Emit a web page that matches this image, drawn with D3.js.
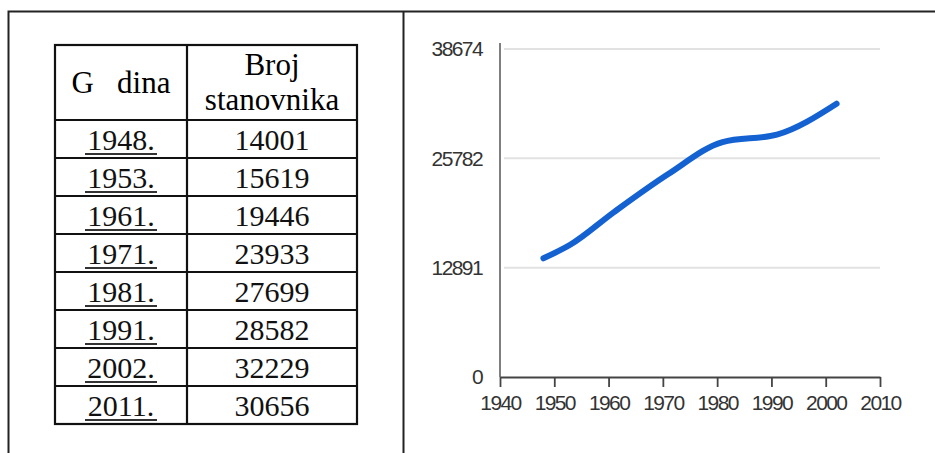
<!DOCTYPE html>
<html>
<head>
<meta charset="utf-8">
<script src="https://cdn.jsdelivr.net/npm/d3@7"></script>
<style>
  body { margin: 0; background: #fff; }
  svg { display: block; }
</style>
</head>
<body>
<script>
// table data
const years = ['1948.', '1953.', '1961.', '1971.', '1981.', '1991.', '2002.', '2011.'];
const population = [14001, 15619, 19446, 23933, 27699, 28582, 32229, 30656];

// chart data (the plotted line stops at 2002)
const lineYears = [1948, 1953, 1961, 1971, 1981, 1991, 2002];
const lineValues = [14001, 15619, 19446, 23933, 27699, 28582, 32229];
const yTickValues = [0, 12891, 25782, 38674];
const xTickValues = [1940, 1950, 1960, 1970, 1980, 1990, 2000, 2010];

const width = 935, height = 453;
const svg = d3.select('body').append('svg')
	.attr('width', width)
	.attr('height', height);

// outer frame
svg.append('path')
	.attr('d', 'M8.5,' + height + 'V11.5H' + width + 'M403.5,11.5V' + height)
	.attr('fill', 'none')
	.attr('stroke', '#222')
	.attr('stroke-width', 2);

// ---------- table ----------
const tLeft = 55, tMid = 187, tRight = 357, tTop = 45, headBottom = 120, rowH = 38;
const serif = '"Liberation Serif", "Times New Roman", serif';
const table = svg.append('g');

const rowYs = d3.range(years.length + 1).map((i) => headBottom + i * rowH);
const tBottom = rowYs[rowYs.length - 1];

table.append('rect')
	.attr('x', tLeft).attr('y', tTop)
	.attr('width', tRight - tLeft).attr('height', tBottom - tTop)
	.attr('fill', 'none').attr('stroke', '#111').attr('stroke-width', 2.2);

table.append('line')
	.attr('x1', tMid).attr('x2', tMid).attr('y1', tTop).attr('y2', tBottom)
	.attr('stroke', '#111').attr('stroke-width', 2.2);

table.selectAll('line.row')
	.data(rowYs.slice(0, -1))
	.enter()
	.append('line')
	.attr('class', 'row')
	.attr('x1', tLeft).attr('x2', tRight)
	.attr('y1', (d) => d).attr('y2', (d) => d)
	.attr('stroke', '#111').attr('stroke-width', 2.2);

const c1 = (tLeft + tMid) / 2, c2 = (tMid + tRight) / 2;

table.append('text')
	.attr('x', c1).attr('y', 93)
	.attr('text-anchor', 'middle')
	.attr('font-family', serif).attr('font-size', 31)
	.style('white-space', 'pre')
	.text('G   dina');

table.append('text')
	.attr('x', c2).attr('y', 75)
	.attr('text-anchor', 'middle')
	.attr('font-family', serif).attr('font-size', 31)
	.text('Broj');

table.append('text')
	.attr('x', c2).attr('y', 110)
	.attr('text-anchor', 'middle')
	.attr('font-family', serif).attr('font-size', 31)
	.text('stanovnika');

const rows = table.selectAll('g.r')
	.data(years.map((y, i) => ({ year: y, pop: population[i], top: rowYs[i] })))
	.enter()
	.append('g')
	.attr('class', 'r');

rows.append('text')
	.attr('x', c1).attr('y', (d) => d.top + 30)
	.attr('text-anchor', 'middle')
	.attr('font-family', serif).attr('font-size', 30)
	.attr('fill', '#111')
	.text((d) => d.year);

rows.append('line')
	.attr('x1', 85).attr('x2', 157)
	.attr('y1', (d) => d.top + 34).attr('y2', (d) => d.top + 34)
	.attr('stroke', '#333').attr('stroke-width', 2.2);

rows.append('text')
	.attr('x', c2).attr('y', (d) => d.top + 30)
	.attr('text-anchor', 'middle')
	.attr('font-family', serif).attr('font-size', 30)
	.attr('fill', '#111')
	.text((d) => d.pop);

// ---------- chart ----------
const x0 = 500, x1 = 880, yBase = 377, yTop = 49;
const xScale = d3.scaleLinear().domain([1940, 2010]).range([x0, x1]);
const yScale = d3.scaleLinear().domain([0, 38674]).range([yBase, yTop]);
const sans = '"Liberation Sans", Arial, sans-serif';
const chart = svg.append('g');

// gridlines
chart.append('g')
	.selectAll('line')
	.data(yTickValues.slice(1))
	.enter()
	.append('line')
	.attr('x1', x0 + 4).attr('x2', x1)
	.attr('y1', (d) => yScale(d)).attr('y2', (d) => yScale(d))
	.attr('stroke', '#e2e2e2').attr('stroke-width', 2);

const yAxis = d3.axisLeft(yScale).tickValues(yTickValues).tickSize(0).tickPadding(18).tickFormat(d3.format('d'));
const yAxisSel = chart.append('g')
	.attr('transform', 'translate(' + x0 + ',0)')
	.call(yAxis);
yAxisSel.select('.domain').remove();
yAxisSel.selectAll('text')
	.attr('font-family', sans).attr('font-size', 21).attr('letter-spacing', -1.6).attr('fill', '#333');

chart.append('line')
	.attr('x1', x0).attr('x2', x0).attr('y1', yTop - 6).attr('y2', yBase)
	.attr('stroke', '#555').attr('stroke-width', 1.5);

const xAxis = d3.axisBottom(xScale).tickValues(xTickValues).tickSize(10).tickSizeOuter(0).tickPadding(8).tickFormat(d3.format('d'));
const xAxisSel = chart.append('g')
	.attr('transform', 'translate(0,' + yBase + ')')
	.call(xAxis);
xAxisSel.select('.domain').attr('stroke', '#444').attr('stroke-width', 1.8);
xAxisSel.selectAll('.tick line').attr('stroke', '#444').attr('stroke-width', 1.8);
xAxisSel.selectAll('text')
	.attr('font-family', sans).attr('font-size', 21).attr('letter-spacing', -1.6).attr('fill', '#333');

const line = d3.line()
	.x((d) => xScale(d[0]))
	.y((d) => yScale(d[1]))
	.curve(d3.curveMonotoneX);

chart.append('path')
	.datum(lineYears.map((y, i) => [y, lineValues[i]]))
	.attr('d', line)
	.attr('fill', 'none')
	.attr('stroke', '#1462d2')
	.attr('stroke-width', 6)
	.attr('stroke-linecap', 'round')
	.attr('stroke-linejoin', 'round');
</script>
</body>
</html>
